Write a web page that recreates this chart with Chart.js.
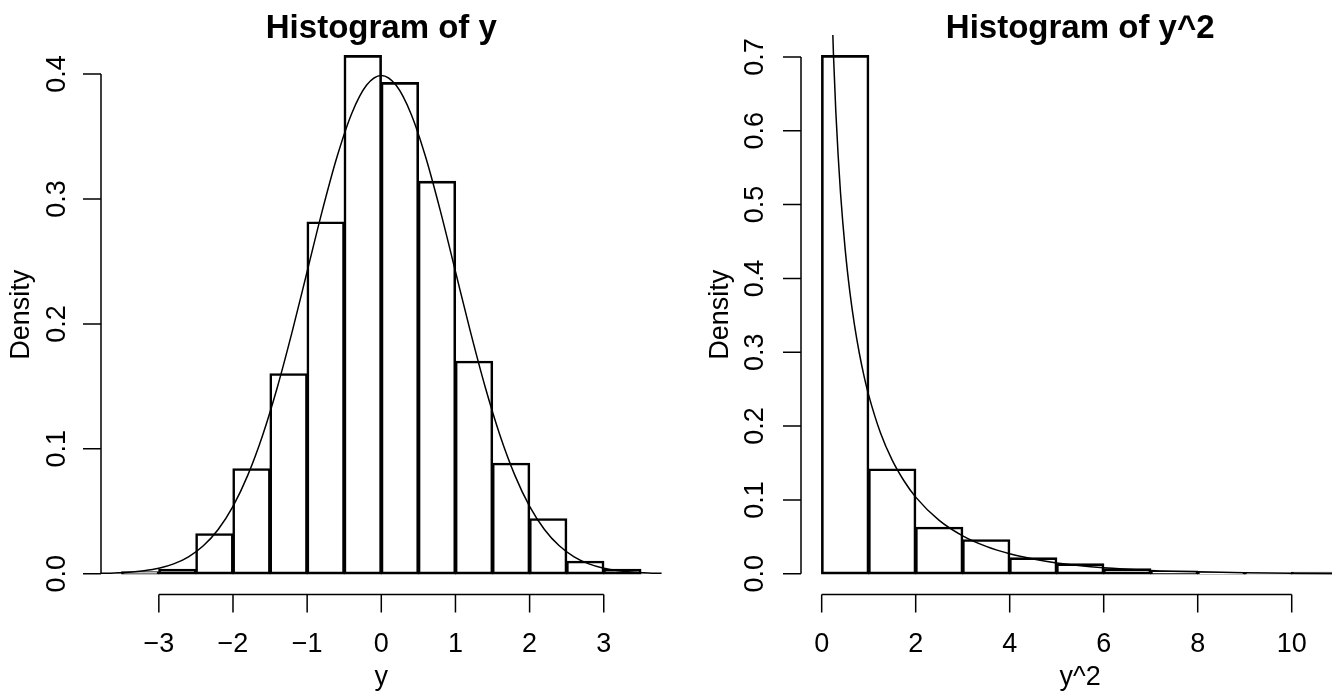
<!DOCTYPE html>
<html>
<head>
<meta charset="utf-8">
<script src="https://cdn.jsdelivr.net/npm/chart.js@4.4.1/dist/chart.umd.min.js"></script>
<style>
  html, body { margin: 0; padding: 0; background: #fff; overflow: hidden; }
  body { width: 1332px; height: 691px; position: relative; }
  .panel { position: absolute; top: 0; height: 691px; }
</style>
</head>
<body>
<div class="panel" style="left:0;width:666px"><canvas id="histY"></canvas></div>
<div class="panel" style="left:666px;width:734px"><canvas id="histY2"></canvas></div>
<script>
// left panel: y
const yBreaks = [-3.5, -3, -2.5, -2, -1.5, -1, -0.5, 0, 0.5, 1, 1.5, 2, 2.5, 3, 3.5];
const yDensity = [0.0016, 0.0035, 0.032, 0.084, 0.16, 0.2815, 0.4147, 0.3931, 0.314, 0.17, 0.0884, 0.044, 0.0099, 0.0035];
const yCurveX = [-3.8, -3.6, -3.4, -3.2, -3.0, -2.8, -2.6, -2.4, -2.2, -2.0, -1.8, -1.6, -1.4, -1.2, -1.0, -0.8, -0.6, -0.4, -0.2, 0,
                 0.2, 0.4, 0.6, 0.8, 1.0, 1.2, 1.4, 1.6, 1.8, 2.0, 2.2, 2.4, 2.6, 2.8, 3.0, 3.2, 3.4, 3.6, 3.8];
const yCurveD = [0.0003, 0.0006, 0.0012, 0.0024, 0.0044, 0.0079, 0.0136, 0.0224, 0.0355, 0.0540, 0.0790, 0.1109, 0.1497, 0.1942, 0.2420, 0.2897, 0.3332, 0.3683, 0.3910, 0.3989,
                 0.3910, 0.3683, 0.3332, 0.2897, 0.2420, 0.1942, 0.1497, 0.1109, 0.0790, 0.0540, 0.0355, 0.0224, 0.0136, 0.0079, 0.0044, 0.0024, 0.0012, 0.0006, 0.0003];
const yTicksX = [-3, -2, -1, 0, 1, 2, 3];
const yTicksY = [0, 0.1, 0.2, 0.3, 0.4];

// right panel: y^2
const y2Breaks = [0, 1, 2, 3, 4, 5, 6, 7, 8, 9, 10, 11];
const y2Density = [0.7016, 0.1417, 0.0628, 0.046, 0.0214, 0.0133, 0.0065, 0.0034, 0.0015, 0.0005, 0.002];
const y2CurveX = [0.15, 0.2, 0.25, 0.3, 0.35, 0.4, 0.5, 0.6, 0.7, 0.8, 0.9, 1.0, 1.25, 1.5, 1.75, 2.0, 2.5, 3.0, 3.5, 4.0, 4.5, 5, 6, 7, 8, 9, 10, 11, 11.5];
const y2CurveD = [0.9556, 0.8071, 0.7041, 0.6269, 0.5667, 0.5164, 0.4394, 0.3815, 0.3360, 0.2990, 0.2681, 0.2420, 0.1910, 0.1539, 0.1260, 0.1038, 0.0723, 0.0514, 0.0371, 0.0270, 0.0199, 0.0146, 0.0081, 0.0046, 0.0026, 0.0015, 0.00085, 0.00049, 0.00037];
const y2TicksX = [0, 2, 4, 6, 8, 10];
const y2TicksY = [0, 0.1, 0.2, 0.3, 0.4, 0.5, 0.6, 0.7];

const FONT = "'Liberation Sans', Arial, Helvetica, sans-serif";
const LW = 1.5;     // axis and curve
const BAR_LW = 1.3; // histogram rectangles

function fmtTick(v, digits) {
  return v.toFixed(digits).replace("-", "\u2212");
}

// R style axes: detached lines that only span the tick range
const rAxes = {
  id: "rAxes",
  afterDraw(chart, args, opts) {
    const ctx = chart.ctx;
    const xs = chart.scales.x, ys = chart.scales.y;
    const area = chart.chartArea;
    ctx.save();
    ctx.strokeStyle = "#000";
    ctx.fillStyle = "#000";
    ctx.lineWidth = LW;
    ctx.lineCap = "butt";

    // x axis
    const xy = area.bottom;
    const x0 = xs.getPixelForValue(opts.xTicks[0]);
    const x1 = xs.getPixelForValue(opts.xTicks[opts.xTicks.length - 1]);
    ctx.beginPath();
    ctx.moveTo(x0, xy); ctx.lineTo(x1, xy);
    opts.xTicks.forEach(t => {
      const px = xs.getPixelForValue(t);
      ctx.moveTo(px, xy); ctx.lineTo(px, xy + 18);
    });
    // y axis
    const yx = area.left;
    const y0 = ys.getPixelForValue(opts.yTicks[0]);
    const y1 = ys.getPixelForValue(opts.yTicks[opts.yTicks.length - 1]);
    ctx.moveTo(yx, y0); ctx.lineTo(yx, y1);
    opts.yTicks.forEach(t => {
      const py = ys.getPixelForValue(t);
      ctx.moveTo(yx, py); ctx.lineTo(yx - 18, py);
    });
    ctx.stroke();

    ctx.font = "27px " + FONT;
    ctx.textAlign = "center";
    ctx.textBaseline = "alphabetic";
    opts.xTicks.forEach(t => {
      ctx.fillText(fmtTick(t, 0), xs.getPixelForValue(t), 652);
    });
    ctx.fillText(opts.xTitle, (area.left + area.right) / 2, 685);

    opts.yTicks.forEach(t => {
      ctx.save();
      ctx.translate(yx - opts.tickGap, ys.getPixelForValue(t));
      ctx.rotate(-Math.PI / 2);
      ctx.fillText(fmtTick(t, 1), 0, 0);
      ctx.restore();
    });
    ctx.save();
    ctx.translate(yx - opts.titleGap, (area.top + area.bottom) / 2);
    ctx.rotate(-Math.PI / 2);
    ctx.fillText("Density", 0, 0);
    ctx.restore();

    ctx.font = "bold 33px " + FONT;
    ctx.fillText(opts.main, (area.left + area.right) / 2, 38);
    ctx.restore();
  }
};

function histChart(id, breaks, dens, curveX, curveD, xr, yr, pad, axisOpts) {
  const bars = dens.map((d, i) => ({ x: (breaks[i] + breaks[i + 1]) / 2, y: d }));
  const curve = curveX.map((x, i) => ({ x: x, y: curveD[i] }));
  return new Chart(document.getElementById(id), {
    type: "bar",
    data: {
      datasets: [
        {
          type: "line",
          data: curve,
          borderColor: "#000",
          borderWidth: LW,
          pointRadius: 0,
          cubicInterpolationMode: "monotone",
          fill: false,
          order: 0
        },
        {
          type: "bar",
          data: bars,
          backgroundColor: "rgba(0,0,0,0)",
          borderColor: "#000",
          borderWidth: BAR_LW,
          borderSkipped: false,
          inflateAmount: BAR_LW / 2,
          categoryPercentage: 1,
          barPercentage: 1,
          order: 1
        }
      ]
    },
    options: {
      responsive: true,
      maintainAspectRatio: false,
      animation: false,
      layout: { padding: pad },
      plugins: {
        legend: { display: false },
        tooltip: { enabled: false },
        rAxes: axisOpts
      },
      scales: {
        x: { type: "linear", min: xr[0], max: xr[1], offset: false, display: false },
        y: { type: "linear", min: yr[0], max: yr[1], display: false }
      }
    },
    plugins: [rAxes]
  });
}

histChart("histY", yBreaks, yDensity, yCurveX, yCurveD,
  [-3.78, 3.78], [-0.01659, 0.43129],
  { left: 101, right: 4.4, top: 35, bottom: 96.5 },
  { xTicks: yTicksX, yTicks: yTicksY, xTitle: "y", main: "Histogram of y", tickGap: 36, titleGap: 72 });

histChart("histY2", y2Breaks, y2Density, y2CurveX, y2CurveD,
  [-0.44, 11.44], [-0.02806, 0.72966],
  { left: 135, right: 40.6, top: 35, bottom: 96.5 },
  { xTicks: y2TicksX, yTicks: y2TicksY, xTitle: "y^2", main: "Histogram of y^2", tickGap: 38, titleGap: 73 });
</script>
</body>
</html>
